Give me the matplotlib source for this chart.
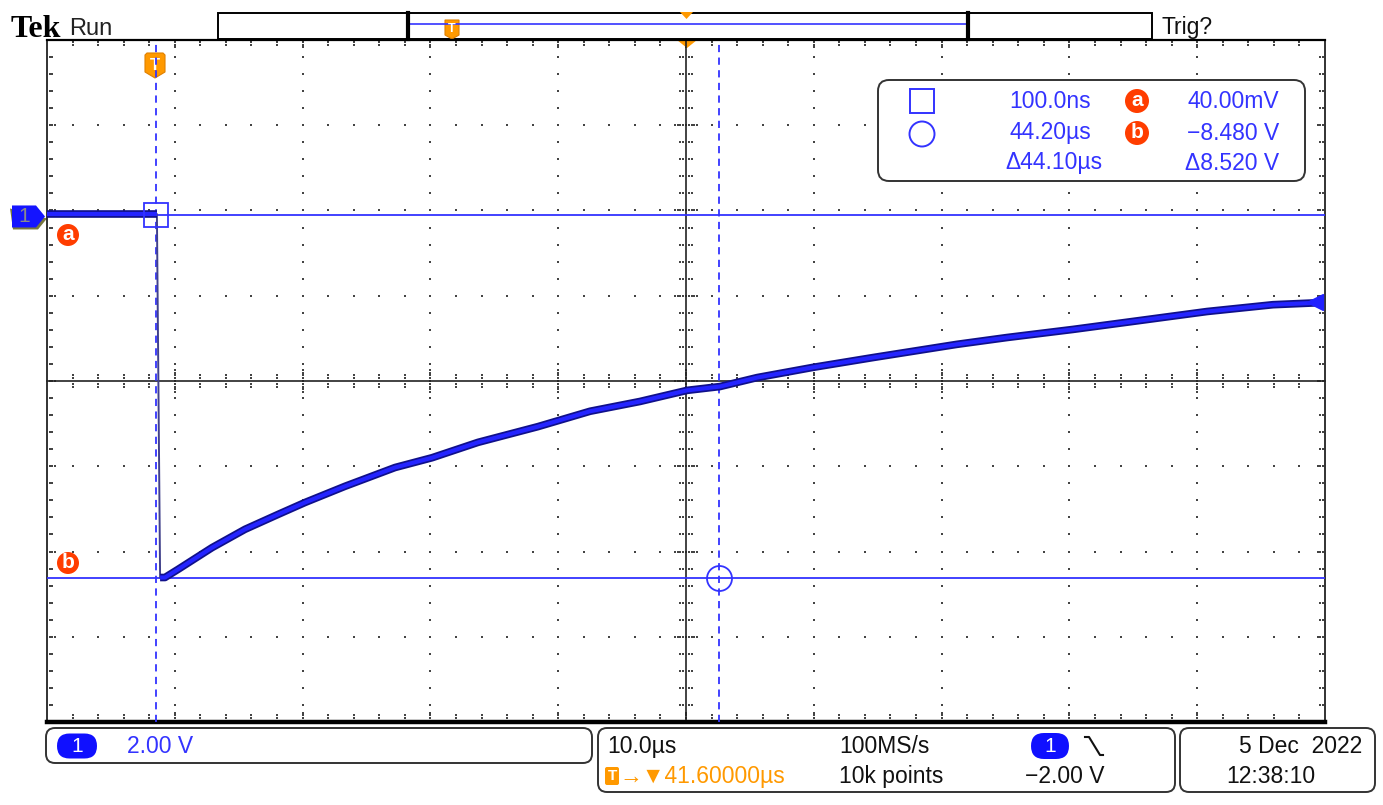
import matplotlib
matplotlib.use("Agg")
import matplotlib.pyplot as plt
from matplotlib.patches import FancyBboxPatch, Polygon, Circle, Rectangle
import numpy as np

t_us = [-8.4, -4.0, 0.2, 0.45, 0.83, 1.85, 4.51, 7.09, 9.68, 11.79, 14.92, 18.83,
        21.73, 25.32, 30.02, 34.09, 38.0, 41.68, 44.26, 47.16, 51.54, 56.23,
        62.8, 66.72, 71.88, 77.13, 82.37, 87.53, 91.4]
v_ch1 = [0.05, 0.05, 0.05, -8.47, -8.47, -8.28, -7.77, -7.34, -6.99, -6.71, -6.33,
         -5.89, -5.66, -5.30, -4.93, -4.57, -4.34, -4.08, -3.99, -3.78, -3.54,
         -3.31, -3.00, -2.84, -2.65, -2.44, -2.23, -2.07, -2.02]

volts_div = 2.0      # V/div
time_div = 10.0      # us/div
delay_us = 41.6      # posicion del centro respecto al trigger
offset_div = 1.93    # posicion de la tierra sobre el centro
trig_level = -2.0

cursor_t = [0.1, 44.2]       # us
cursor_v = [0.04, -8.48]     # V

readout_t = ["100.0ns", "44.20\u00b5s", "\u039444.10\u00b5s"]
readout_v = ["40.00mV", "\u22128.480 V", "\u03948.520 V"]

BLUE = "#3333ff"
ORANGE = "#ff9900"
RED = "#ff3d00"
FONT = ["Liberation Sans", "DejaVu Sans"]

W, H = 1383, 805
fig = plt.figure(figsize=(W / 100, H / 100), dpi=100)

# capa de decoracion en pixeles
ov = fig.add_axes([0, 0, 1, 1], zorder=1)
ov.set_xlim(0, W)
ov.set_ylim(H, 0)
ov.set_axis_off()

L, R, T, B = 47, 1325, 40, 722
dx = (R - L) / 10
dy = (B - T) / 8
xc, yc = L + 5 * dx, T + 4 * dy

# reticula de puntos
gx, gy = [], []
xs_minor = L + np.arange(1, 50) * dx / 5
ys_minor = T + np.arange(1, 40) * dy / 5
for k in range(1, 10):
    if k != 5:
        gx += [L + k * dx] * len(ys_minor)
        gy += list(ys_minor)
for k in range(1, 8):
    if k != 4:
        gx += list(xs_minor)
        gy += [T + k * dy] * len(xs_minor)
for i, x in enumerate(xs_minor, start=1):
    n = 4 if i % 5 == 0 else 2
    for j in range(1, n + 1):
        gx += [x, x]
        gy += [yc - 2.8 * j, yc + 2.8 * j]
    m = 3 if i % 5 == 0 else 2
    for j in range(1, m + 1):
        gx += [x, x]
        gy += [T + 2.5 * j, B - 2 - 2.5 * j]
for i, y in enumerate(ys_minor, start=1):
    n = 4 if i % 5 == 0 else 2
    for j in range(1, n + 1):
        gx += [xc - 2.8 * j, xc + 2.8 * j]
        gy += [y, y]
    m = 3 if i % 5 == 0 else 2
    for j in range(1, m + 1):
        gx += [L + 2.5 * j, R - 2.5 * j]
        gy += [y, y]
ov.scatter(gx, gy, s=1.0, marker="s", c="#444444", linewidths=0)

ov.plot([xc, xc], [T, B], color="#222222", lw=1.2)
ov.plot([L, R], [yc, yc], color="#222222", lw=1.2)
ov.plot([L, L], [T, B], color="#222222", lw=1.3)
ov.plot([R, R], [T, B], color="#222222", lw=1.3)
ov.plot([L, R], [T, T], color="black", lw=1.6)
ov.plot([L, R], [B, B], color="black", lw=3.2)

# barra de registro superior
ov.add_patch(Rectangle((218, 13), 934, 26, fc="white", ec="black", lw=1.4))
ov.plot([410, 966], [24, 24], color=BLUE, lw=1.2)
for xb in (408, 968):
    ov.plot([xb, xb], [13, 39], color="black", lw=3)
ov.add_patch(Polygon([(445, 20), (459, 20), (459, 35), (452, 39), (445, 35)],
                     closed=True, fc=ORANGE, ec="#e08000", lw=0.8))
ov.text(452, 29, "T", ha="center", va="center", fontsize=9, color="white",
        fontweight="bold", family=FONT)
ov.add_patch(Polygon([(680, 12), (693, 12), (686.5, 19)], closed=True, fc=ORANGE, ec="none"))
ov.add_patch(Polygon([(677, 40), (697, 40), (687, 48)], closed=True, fc=ORANGE, ec="none"))

ov.text(11, 37, "Tek", ha="left", va="baseline", fontsize=23, fontweight="bold",
        family=["Liberation Serif", "DejaVu Serif"], color="black")
ov.text(69, 35, "Run", ha="left", va="baseline", fontsize=17, family=FONT, color="#222222")
ov.text(1162, 34, "Trig?", ha="left", va="baseline", fontsize=16.5, family=FONT, color="#111111")

# marcador T del trigger
ov.add_patch(Polygon([(145, 55), (147, 53), (163, 53), (165, 55), (165, 72), (155, 78), (145, 72)],
                     closed=True, fc=ORANGE, ec="#e08000", lw=0.8))
ov.text(155, 65, "T", ha="center", va="center", fontsize=12, color="white",
        fontweight="bold", family=FONT)

# marcador del canal 1
y_gnd = yc - offset_div * dy
ov.add_patch(Polygon([(10, y_gnd - 8), (13, y_gnd + 13), (38, y_gnd + 13), (47, y_gnd + 2)],
                     closed=True, fc="#77773d", ec="none"))
ov.add_patch(Polygon([(12, y_gnd - 11), (36, y_gnd - 11), (45, y_gnd), (36, y_gnd + 11), (12, y_gnd + 11)],
                     closed=True, fc="#1414ff", ec="none"))
ov.text(24, y_gnd, "1", ha="center", va="center", fontsize=15, color="#8a8a8a", family=FONT)

# etiquetas a / b de los cursores
for lab, yy in (("a", 235), ("b", 563)):
    ov.add_patch(Circle((68, yy), 11, fc=RED, ec="none"))
    ov.text(68, yy - 1, lab, ha="center", va="center", fontsize=15, color="white",
            fontweight="bold", family=FONT)

# cuadro de lecturas
ov.add_patch(FancyBboxPatch((878, 80), 427, 101, boxstyle="round,pad=0,rounding_size=11",
                            fc="white", ec="#333333", lw=1.4))
ov.add_patch(Rectangle((909.5, 89.5), 24, 24, fc="none", ec=BLUE, lw=1.4))
ov.add_patch(Circle((922, 134), 12.5, fc="none", ec=BLUE, lw=1.4))
rows = [101, 133, 163]
for yy, txt, xr in zip(rows, readout_t, (1091, 1091, 1103)):
    ov.text(xr, yy, txt, ha="right", va="center", fontsize=16.5, color=BLUE, family=FONT)
for yy, txt in zip(rows, readout_v):
    ov.text(1279, yy, txt, ha="right", va="center", fontsize=16.5, color=BLUE, family=FONT)
for lab, yy in (("a", rows[0]), ("b", rows[1])):
    ov.add_patch(Circle((1137, yy), 12, fc=RED, ec="none"))
    ov.text(1137, yy - 1, lab, ha="center", va="center", fontsize=15, color="white",
            fontweight="bold", family=FONT)

# paneles inferiores
def panel(x0, y0, x1, y1):
    ov.add_patch(FancyBboxPatch((x0, y0), x1 - x0, y1 - y0, boxstyle="round,pad=0,rounding_size=9",
                                fc="white", ec="#333333", lw=1.4))

def pill(cx, cy, w, h):
    ov.add_patch(FancyBboxPatch((cx - w / 2, cy - h / 2), w, h,
                                boxstyle="round,pad=0,rounding_size=%f" % (h / 2),
                                fc="#1010ff", ec="none"))
    ov.text(cx, cy, "1", ha="center", va="center", fontsize=15, color="white", family=FONT)

panel(46, 728, 592, 763)
panel(598, 728, 1175, 792)
panel(1180, 728, 1375, 792)

pill(77, 746, 40, 25)
ov.text(127, 746, "2.00 V", ha="left", va="center", fontsize=16.5, color=BLUE, family=FONT)

r1, r2 = 746, 776
ov.text(607, r1, "10.0\u00b5s", ha="left", va="center", fontsize=16.5, color="#111111", family=FONT)
ov.text(839, r1, "100MS/s", ha="left", va="center", fontsize=16.5, color="#111111", family=FONT)
pill(1050, r1, 38, 26)
ov.plot([1085, 1089, 1100, 1103], [737, 737, 755, 755], color="#111111", lw=1.5)
ov.add_patch(FancyBboxPatch((605, r2 - 9), 14, 18, boxstyle="round,pad=0,rounding_size=2",
                            fc=ORANGE, ec="none"))
ov.text(612, r2, "T", ha="center", va="center", fontsize=11, color="white",
        fontweight="bold", family=FONT)
ov.text(619, r2, "\u2192\u25bc41.60000\u00b5s", ha="left", va="center", fontsize=16.5,
        color=ORANGE, family=FONT)
ov.text(839, r2, "10k points", ha="left", va="center", fontsize=16.5, color="#111111", family=FONT)
ov.text(1025, r2, "\u22122.00 V", ha="left", va="center", fontsize=16.5, color="#111111", family=FONT)
ov.text(1362, r1, "5 Dec  2022", ha="right", va="center", fontsize=16.5, color="#111111", family=FONT)
ov.text(1226, r2, "12:38:10", ha="left", va="center", fontsize=16.5, color="#111111", family=FONT)

# ejes de datos sobre la reticula
ax = fig.add_axes([L / W, 1 - B / H, (R - L) / W, (B - T) / H], zorder=2)
ax.patch.set_alpha(0)
ax.set_axis_off()
ax.set_xlim(delay_us - 5 * time_div, delay_us + 5 * time_div)
vc = -offset_div * volts_div
ax.set_ylim(vc - 4 * volts_div, vc + 4 * volts_div)

for tc in cursor_t:
    ax.axvline(tc, color=BLUE, lw=1.3, ls=(0, (4, 3)))
for vcur in cursor_v:
    ax.axhline(vcur, color=BLUE, lw=1.3)

# traza del canal 1
ax.plot(t_us[2:4], v_ch1[2:4], color="#40408a", lw=1.4)
for a, b in ((0, 3), (3, len(t_us))):
    ax.plot(t_us[a:b], v_ch1[a:b], color="#10108a", lw=5.5, solid_capstyle="butt",
            solid_joinstyle="round")
    ax.plot(t_us[a:b], v_ch1[a:b], color="#2424ff", lw=3, solid_capstyle="butt",
            solid_joinstyle="round")

ax.plot(cursor_t[0], cursor_v[0], marker="s", ms=17, mfc="none", mec=BLUE, mew=1.3)
ax.plot(cursor_t[1], cursor_v[1], marker="o", ms=18, mfc="none", mec=BLUE, mew=1.3)
ax.plot(delay_us + 5 * time_div - 0.8, trig_level, marker="<", ms=11, color="#2020ff")

fig.savefig("out.png", dpi=100)
